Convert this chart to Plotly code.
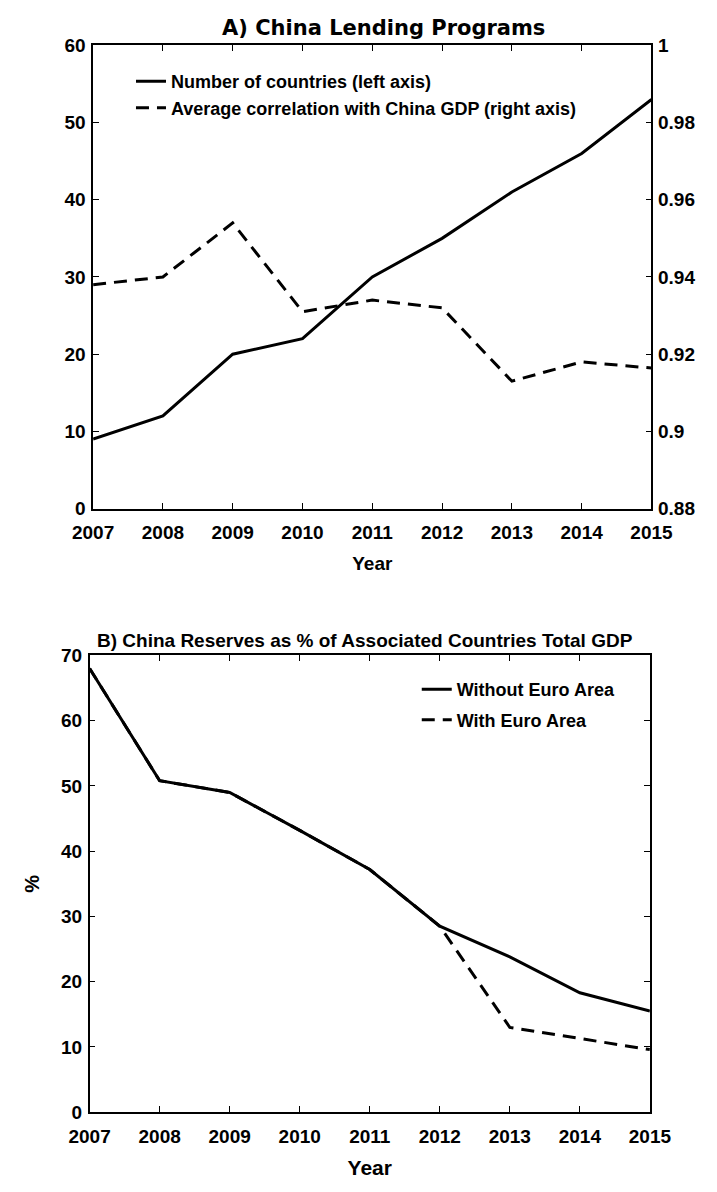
import plotly.graph_objects as go

years = [2007, 2008, 2009, 2010, 2011, 2012, 2013, 2014, 2015]
num_countries = [9, 12, 20, 22, 30, 35, 41, 46, 53]
avg_corr = [0.938, 0.940, 0.954, 0.931, 0.934, 0.932, 0.913, 0.918, 0.9164]
without_euro = [68, 50.8, 49, 43.2, 37.2, 28.5, 23.8, 18.3, 15.5]
with_euro = [68, 50.8, 49, 43.2, 37.2, 28.5, 13, 11.3, 9.6]

W, H = 717, 1192
FONT = "Liberation Sans, Arial, sans-serif"
tickfont = dict(family=FONT, size=19, color="black", weight="bold")
DASH = "13px,8px"

def px_x(p):
    return p / W

def px_y(p):
    return 1 - p / H

fig = go.Figure()

fig.add_trace(go.Scatter(x=years, y=num_countries, mode="lines",
                         line=dict(color="black", width=3),
                         name="Number of countries (left axis)",
                         xaxis="x", yaxis="y", legend="legend"))
fig.add_trace(go.Scatter(x=years, y=avg_corr, mode="lines",
                         line=dict(color="black", width=3, dash=DASH),
                         name="Average correlation with China GDP (right axis)",
                         xaxis="x", yaxis="y2", legend="legend"))
fig.add_trace(go.Scatter(x=years, y=without_euro, mode="lines",
                         line=dict(color="black", width=3),
                         name="Without Euro Area", legendgroup="a",
                         xaxis="x2", yaxis="y3", legend="legend2"))
fig.add_trace(go.Scatter(x=years, y=with_euro, mode="lines",
                         line=dict(color="black", width=3, dash=DASH),
                         name="With Euro Area", legendgroup="b",
                         xaxis="x2", yaxis="y3", legend="legend2"))

axcommon = dict(showgrid=False, zeroline=False, showline=True, linecolor="black",
                linewidth=1.5, ticks="inside", ticklen=6, tickcolor="black",
                tickwidth=1.2, tickfont=tickfont)

fig.update_layout(
    width=W, height=H,
    margin=dict(l=0, r=0, t=0, b=0),
    paper_bgcolor="white", plot_bgcolor="white",
    font=dict(family=FONT, color="black"),
    xaxis=dict(domain=[px_x(76.7), px_x(670.7)], anchor="y", range=[2007, 2015],
               tickvals=years, mirror="ticks", ticklabelstandoff=6,
               title=dict(text="Year", font=dict(family=FONT, size=19, weight="bold"), standoff=15),
               **axcommon),
    yaxis=dict(domain=[px_y(507.5), px_y(36)], anchor="x", range=[0, 60],
               tickvals=[0, 10, 20, 30, 40, 50, 60], ticklabelstandoff=2,
               **axcommon),
    yaxis2=dict(overlaying="y", side="right", anchor="x", range=[0.88, 1.0],
                tickvals=[0.88, 0.9, 0.92, 0.94, 0.96, 0.98, 1.0],
                ticktext=["0.88", "0.9", "0.92", "0.94", "0.96", "0.98", "1"],
                ticklabelstandoff=1, **axcommon),
    xaxis2=dict(domain=[px_x(73), px_x(669)], anchor="y3", range=[2007, 2015],
                tickvals=years, mirror="ticks", ticklabelstandoff=6,
                title=dict(text="Year", font=dict(family=FONT, size=21, weight="bold"), standoff=15),
                **axcommon),
    yaxis3=dict(domain=[px_y(1122), px_y(657)], anchor="x2", range=[0, 70],
                tickvals=[0, 10, 20, 30, 40, 50, 60, 70], mirror="ticks",
                ticklabelstandoff=2,
                title=dict(text="%", font=dict(family=FONT, size=20, weight="bold"), standoff=16),
                **axcommon),
    legend=dict(x=px_x(117), y=px_y(54), xanchor="left", yanchor="top",
                bgcolor="rgba(0,0,0,0)", font=dict(family=FONT, size=18, color="black", weight="bold"),
                tracegroupgap=0, itemwidth=30),
    legend2=dict(x=px_x(421), y=px_y(673), xanchor="left", yanchor="top",
                 bgcolor="rgba(0,0,0,0)", font=dict(family=FONT, size=18, color="black", weight="bold"),
                 tracegroupgap=4, itemwidth=30),
    showlegend=True,
    annotations=[
        dict(text="A) China Lending Programs", x=px_x(386), y=px_y(18),
             xref="paper", yref="paper", showarrow=False, xanchor="center", yanchor="middle",
             font=dict(family="DejaVu Sans, Liberation Sans, sans-serif", size=21,
                       color="black", weight="bold")),
        dict(text="B) China Reserves as % of Associated Countries Total GDP", x=px_x(366), y=px_y(642),
             xref="paper", yref="paper", showarrow=False, xanchor="center", yanchor="middle",
             font=dict(family=FONT, size=19, color="black", weight="bold")),
    ],
)

fig.write_html("out.html")
